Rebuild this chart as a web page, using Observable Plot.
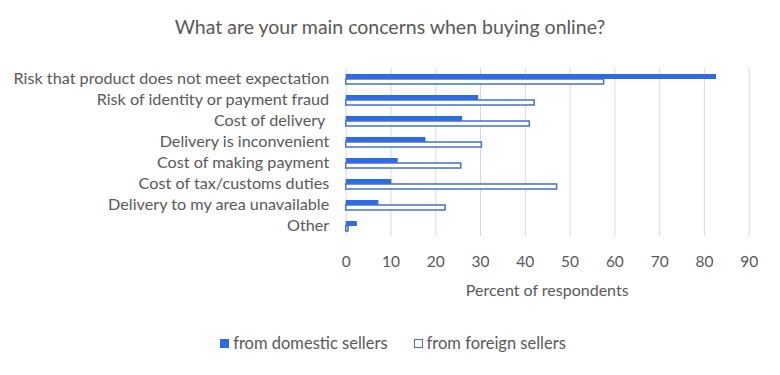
<!DOCTYPE html>
<html>
<head>
<meta charset="utf-8">
<script src="https://cdn.jsdelivr.net/npm/d3@7"></script>
<script src="https://cdn.jsdelivr.net/npm/@observablehq/plot@0.6"></script>
<style>
  html, body { margin: 0; padding: 0; background: #fff; }
  body { width: 780px; font-family: Lato, "Open Sans", sans-serif; color: #595959; position: relative; }
  #title { height: 52px; line-height: 54px; text-align: center; font-size: 19.5px; color: #595959; }
  #xlabel { position: absolute; left: 345.7px; width: 403px; top: 280px; text-align: center; font-size: 16px; color: #595959; }
  #legend { display: flex; justify-content: center; gap: 26px; font-size: 16.5px; color: #595959; margin-top: 21px; padding-left: 6px; }
  .item { display: flex; align-items: center; gap: 4px; }
  .sw { width: 9px; height: 9px; box-sizing: border-box; display: inline-block; }
</style>
</head>
<body>
<div id="title">What are your main concerns when buying online?</div>
<div id="chart"></div>
<div id="xlabel">Percent of respondents</div>
<div id="legend"></div>
<script>
const categories = [
  "Risk that product does not meet expectation",
  "Risk of identity or payment fraud",
  "Cost of delivery ",
  "Delivery is inconvenient",
  "Cost of making payment",
  "Cost of tax/customs duties",
  "Delivery to my area unavailable",
  "Other"
];
const series = ["from domestic sellers", "from foreign sellers"];
const domestic = [82.7, 29.6, 26.0, 17.8, 11.6, 10.2, 7.3, 2.5];
const foreign  = [57.6, 42.1, 41.0, 30.3, 25.7, 47.1, 22.2, 0.5];
const xTicks = [0, 10, 20, 30, 40, 50, 60, 70, 80, 90];

const domColor = "#2E6BE6";
const forColor = "#4472C4";

const data = [];
categories.forEach((c, i) => {
  data.push({cat: c, series: series[0], value: domestic[i]});
  data.push({cat: c, series: series[1], value: foreign[i]});
});

const chart = Plot.plot({
  width: 780,
  height: 260,
  marginTop: 13,
  marginBottom: 74,
  marginLeft: 345.7,
  marginRight: 31.3,
  style: {fontFamily: "Lato, 'Open Sans', sans-serif", color: "#595959", background: "#fff"},
  x: {domain: [0, 90], ticks: xTicks},
  fy: {domain: categories, padding: 0},
  y: {domain: series, paddingInner: 0, paddingOuter: 0.8, axis: null},
  marks: [
    Plot.gridX(xTicks, {stroke: "#d9d9d9", strokeOpacity: 1, strokeWidth: 1}),
    Plot.barX(data, {
      x: "value", y: "series", fy: "cat",
      fill: d => d.series === series[0] ? domColor : "#ffffff",
      stroke: d => d.series === series[0] ? domColor : forColor,
      strokeWidth: d => d.series === series[0] ? 0 : 1.5
    }),
    Plot.axisFy({anchor: "left", tickSize: 0, tickPadding: 17, fontSize: 16.2, label: null, fill: "#595959"}),
    Plot.axisX(xTicks, {tickSize: 0, tickPadding: 19, fontSize: 15.5, label: null, fill: "#595959"})
  ]
});
document.getElementById("chart").appendChild(chart);

const legend = document.getElementById("legend");
series.forEach((s, i) => {
  const item = document.createElement("div");
  item.className = "item";
  const sw = document.createElement("span");
  sw.className = "sw";
  if (i === 0) { sw.style.background = domColor; }
  else { sw.style.border = "1.5px solid " + forColor; sw.style.background = "#fff"; }
  const t = document.createElement("span");
  t.textContent = s;
  item.appendChild(sw); item.appendChild(t);
  legend.appendChild(item);
});
</script>
</body>
</html>
